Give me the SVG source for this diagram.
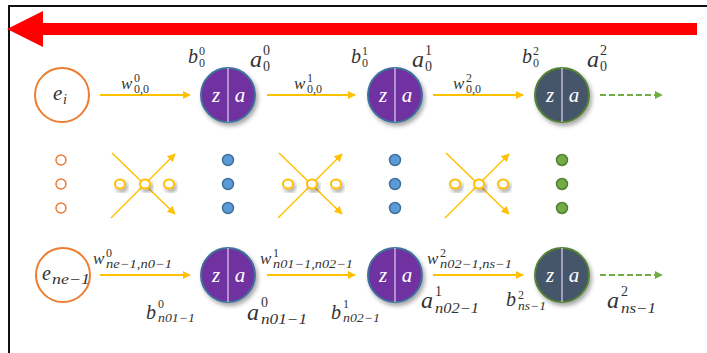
<svg xmlns="http://www.w3.org/2000/svg" width="707" height="353" viewBox="0 0 707 353">
<defs>
<marker id="ya" viewBox="0 0 10 10" refX="9" refY="5" markerWidth="4" markerHeight="4" orient="auto"><path d="M0,0 L10,5 L0,10 z" fill="#FFC000"/></marker>
<marker id="yb" viewBox="0 0 10 10" refX="9" refY="5" markerWidth="5.5" markerHeight="5.5" orient="auto"><path d="M0,0 L10,5 L0,10 z" fill="#FFC000"/></marker>
<marker id="ga" viewBox="0 0 10 10" refX="9" refY="5" markerWidth="4" markerHeight="4" orient="auto"><path d="M0,0 L10,5 L0,10 z" fill="#70AD47"/></marker>
<filter id="sh" x="-30%" y="-30%" width="170%" height="170%"><feDropShadow dx="2" dy="3" stdDeviation="2" flood-color="#000" flood-opacity="0.35"/></filter>
</defs>
<style>
text{font-family:"Liberation Serif","DejaVu Serif",serif;fill:#333}
.m{font-style:italic}
.b{font-size:20px}
.A{font-size:24px}
.w{font-size:17px}
.s{font-size:12px}
.sa{font-size:14px}
.y{stroke:#FFC000;stroke-width:2;fill:none;marker-end:url(#ya)}
.g{stroke:#70AD47;stroke-width:2;fill:none;stroke-dasharray:6,3;marker-end:url(#ga)}
.in{fill:#fff;stroke:#ED7D31;stroke-width:2}
.p{fill:#7030A0;stroke:#41719C;stroke-width:2;filter:url(#sh)}
.d{fill:#44546A;stroke:#548235;stroke-width:2;filter:url(#sh)}
.dv{stroke:#E0D0F0;stroke-width:1.2}
.zl{font-style:italic;fill:#fff;font-size:21px;text-anchor:middle}
.od{fill:#fff;stroke:#ED7D31;stroke-width:1.5}
.bd{fill:#5B9BD5;stroke:#41719C;stroke-width:1.5}
.gd{fill:#70AD47;stroke:#507E32;stroke-width:1.5}
.yo{fill:#fff;stroke:#FFC000;stroke-width:2;filter:url(#sh)}
.yl{stroke:#FFC000;stroke-width:1.5;fill:none;marker-end:url(#yb)}
</style>
<rect width="707" height="353" fill="#fff"/>
<path d="M9,353 V6 H707" fill="none" stroke="#111" stroke-width="2"/>
<path d="M697,23 H43 V11 L7,29 L43,47 V35 H697 z" fill="#FF0000"/>

<g id="connectors">
<line class="y" x1="100" y1="95" x2="190" y2="95"/>
<line class="y" x1="267" y1="95" x2="355" y2="95"/>
<line class="y" x1="433" y1="95" x2="523" y2="95"/>
<line class="g" x1="600" y1="95" x2="662" y2="95"/>
<line class="y" x1="100" y1="275" x2="190" y2="275"/>
<line class="y" x1="267" y1="275" x2="355" y2="275"/>
<line class="y" x1="433" y1="275" x2="523" y2="275"/>
<line class="g" x1="600" y1="275" x2="662" y2="275"/>
<g id="cross1">
<line class="yl" x1="112" y1="153" x2="175" y2="214"/>
<line class="yl" x1="111" y1="218" x2="175" y2="154"/>
</g>
<g id="cross2">
<line class="yl" x1="279" y1="153" x2="342" y2="214"/>
<line class="yl" x1="278" y1="218" x2="342" y2="154"/>
</g>
<g id="cross3">
<line class="yl" x1="446" y1="153" x2="509" y2="214"/>
<line class="yl" x1="445" y1="218" x2="509" y2="154"/>
</g>
</g>

<g id="ei"><circle class="in" cx="62" cy="95" r="27"/><text class="m" x="53" y="100" style="font-size:21px">e</text><text class="m" x="63" y="104" style="font-size:14px">i</text></g>
<g id="n00"><circle class="p" cx="228" cy="95" r="27"/><line class="dv" x1="228" y1="68" x2="228" y2="122"/><text class="zl" x="216" y="102">z</text><text class="zl" x="240" y="102">a</text></g>
<g id="n10"><circle class="p" cx="395" cy="95" r="27"/><line class="dv" x1="395" y1="68" x2="395" y2="122"/><text class="zl" x="383" y="102">z</text><text class="zl" x="407" y="102">a</text></g>
<g id="n20"><circle class="d" cx="562" cy="95" r="27"/><line class="dv" x1="562" y1="68" x2="562" y2="122"/><text class="zl" x="550" y="102">z</text><text class="zl" x="574" y="102">a</text></g>

<g id="ene"><circle class="in" cx="63" cy="275" r="27"/><text class="m" x="42" y="280" style="font-size:20px">e</text><text class="m" x="52" y="284" style="font-size:14px" textLength="38" lengthAdjust="spacingAndGlyphs">ne−1</text></g>
<g id="n01"><circle class="p" cx="228" cy="275" r="27"/><line class="dv" x1="228" y1="248" x2="228" y2="302"/><text class="zl" x="216" y="282">z</text><text class="zl" x="240" y="282">a</text></g>
<g id="n11"><circle class="p" cx="395" cy="275" r="27"/><line class="dv" x1="395" y1="248" x2="395" y2="302"/><text class="zl" x="383" y="282">z</text><text class="zl" x="407" y="282">a</text></g>
<g id="n21"><circle class="d" cx="562" cy="275" r="27"/><line class="dv" x1="562" y1="248" x2="562" y2="302"/><text class="zl" x="550" y="282">z</text><text class="zl" x="574" y="282">a</text></g>

<g id="dots">
<circle class="od" cx="61" cy="160" r="5"/><circle class="od" cx="61" cy="184" r="5"/><circle class="od" cx="61" cy="208" r="5"/>
<circle class="bd" cx="228" cy="160" r="5.5"/><circle class="bd" cx="228" cy="184" r="5.5"/><circle class="bd" cx="228" cy="208" r="5.5"/>
<circle class="bd" cx="395" cy="160" r="5.5"/><circle class="bd" cx="395" cy="184" r="5.5"/><circle class="bd" cx="395" cy="208" r="5.5"/>
<circle class="gd" cx="562" cy="160" r="5.5"/><circle class="gd" cx="562" cy="184" r="5.5"/><circle class="gd" cx="562" cy="208" r="5.5"/>
<ellipse class="yo" cx="120" cy="184" rx="5" ry="4.5"/><ellipse class="yo" cx="145" cy="184" rx="5" ry="4.5"/><ellipse class="yo" cx="169" cy="184" rx="5" ry="4.5"/>
<ellipse class="yo" cx="288" cy="184" rx="5" ry="4.5"/><ellipse class="yo" cx="312" cy="184" rx="5" ry="4.5"/><ellipse class="yo" cx="336" cy="184" rx="5" ry="4.5"/>
<ellipse class="yo" cx="455" cy="184" rx="5" ry="4.5"/><ellipse class="yo" cx="479" cy="184" rx="5" ry="4.5"/><ellipse class="yo" cx="503" cy="184" rx="5" ry="4.5"/>
</g>

<g id="labels">
<!-- top w -->
<text class="m w" x="121" y="89">w</text><text class="s" x="134" y="82">0</text><text class="s" x="134" y="93">0,0</text>
<text class="m w" x="294" y="89">w</text><text class="s" x="307" y="82">1</text><text class="s" x="307" y="93">0,0</text>
<text class="m w" x="453" y="89">w</text><text class="s" x="466" y="82">2</text><text class="s" x="466" y="93">0,0</text>
<!-- top b,a -->
<text class="m b" x="188" y="63">b</text><text class="s" x="199" y="55">0</text><text class="s" x="199" y="67">0</text>
<text class="m A" x="250" y="67">a</text><text class="sa" x="263" y="55">0</text><text class="sa" x="263" y="71">0</text>
<text class="m b" x="351" y="63">b</text><text class="s" x="362" y="55">1</text><text class="s" x="362" y="67">0</text>
<text class="m A" x="412" y="67">a</text><text class="sa" x="425" y="55">1</text><text class="sa" x="425" y="71">0</text>
<text class="m b" x="522" y="63">b</text><text class="s" x="533" y="55">2</text><text class="s" x="533" y="67">0</text>
<text class="m A" x="587" y="67">a</text><text class="sa" x="600" y="55">2</text><text class="sa" x="600" y="71">0</text>
<!-- bottom w -->
<text class="m w" x="93" y="264">w</text><text class="s" x="106" y="257">0</text><text class="s m" x="106" y="268" textLength="66" lengthAdjust="spacingAndGlyphs">ne−1,n0−1</text>
<text class="m w" x="260" y="264">w</text><text class="s" x="273" y="257">1</text><text class="s m" x="273" y="268" textLength="80" lengthAdjust="spacingAndGlyphs">n01−1,n02−1</text>
<text class="m w" x="427" y="264">w</text><text class="s" x="440" y="257">2</text><text class="s m" x="440" y="268" textLength="72" lengthAdjust="spacingAndGlyphs">n02−1,ns−1</text>
<!-- bottom b,a -->
<text class="m b" x="146" y="319">b</text><text class="s" x="158" y="308">0</text><text class="s m" x="158" y="322" textLength="37" lengthAdjust="spacingAndGlyphs">n01−1</text>
<text class="m A" x="247" y="320">a</text><text class="sa" x="261" y="307">0</text><text class="sa m" x="261" y="324" textLength="46" lengthAdjust="spacingAndGlyphs">n01−1</text>
<text class="m b" x="331" y="319">b</text><text class="s" x="343" y="308">1</text><text class="s m" x="343" y="322" textLength="37" lengthAdjust="spacingAndGlyphs">n02−1</text>
<text class="m A" x="421" y="308">a</text><text class="sa" x="435" y="296">1</text><text class="sa m" x="435" y="313" textLength="44" lengthAdjust="spacingAndGlyphs">n02−1</text>
<text class="m b" x="506" y="306">b</text><text class="s" x="518" y="299">2</text><text class="s m" x="518" y="310" textLength="28" lengthAdjust="spacingAndGlyphs">ns−1</text>
<text class="m A" x="607" y="308">a</text><text class="sa" x="621" y="296">2</text><text class="sa m" x="621" y="313" textLength="35" lengthAdjust="spacingAndGlyphs">ns−1</text>
</g>
</svg>
